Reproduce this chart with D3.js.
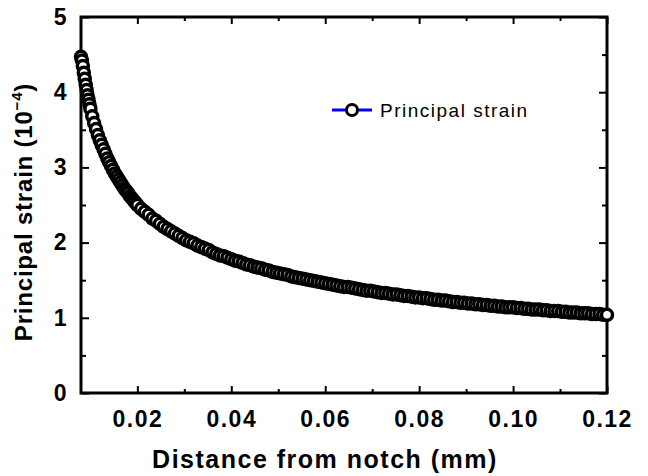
<!DOCTYPE html>
<html>
<head>
<meta charset="utf-8">
<script src="https://cdn.jsdelivr.net/npm/d3@7"></script>
<style>
  body { margin: 0; background: #fff; }
  svg { display: block; }
  .tickLabel text { font-family: "Liberation Sans", Arial, sans-serif; font-weight: bold; font-size: 23px; fill: #000; letter-spacing: 1.5px; }
  .axisTitle { font-family: "Liberation Sans", Arial, sans-serif; font-weight: bold; fill: #000; }
  .legendText { font-family: "Liberation Sans", Arial, sans-serif; font-size: 19px; fill: #000; letter-spacing: 1.5px; }
</style>
</head>
<body>
<div id="chart"></div>
<script>
// distance from notch (mm) and principal strain (x 10^-4)
var distance = [
  0.0080, 0.0082, 0.0084, 0.0086, 0.0088, 0.0090, 0.0092, 0.0094, 0.0096, 0.0098, 0.0100,
  0.0104, 0.0108, 0.0112, 0.0116, 0.0120, 0.0124, 0.0128, 0.0132, 0.0136, 0.0140,
  0.0144, 0.0148, 0.0152, 0.0156, 0.0160, 0.0164, 0.0168, 0.0172, 0.0176, 0.0180,
  0.0184, 0.0188, 0.0192, 0.0196, 0.0200,
  0.0208, 0.0216, 0.0224, 0.0232, 0.0240, 0.0248, 0.0256, 0.0264, 0.0272, 0.0280,
  0.0288, 0.0296, 0.0304, 0.0312, 0.0320, 0.0328, 0.0336, 0.0344, 0.0352, 0.0360,
  0.0368, 0.0376, 0.0384, 0.0392, 0.0400, 0.0408, 0.0416, 0.0424, 0.0432, 0.0440,
  0.0448, 0.0456, 0.0464, 0.0472, 0.0480, 0.0488, 0.0496, 0.0504, 0.0512, 0.0520,
  0.0528, 0.0536, 0.0544, 0.0552, 0.0560, 0.0568, 0.0576, 0.0584, 0.0592, 0.0600,
  0.0608, 0.0616, 0.0624, 0.0632, 0.0640, 0.0648, 0.0656, 0.0664, 0.0672, 0.0680,
  0.0688, 0.0696, 0.0704, 0.0712, 0.0720, 0.0728, 0.0736, 0.0744, 0.0752, 0.0760,
  0.0768, 0.0776, 0.0784, 0.0792, 0.0800, 0.0808, 0.0816, 0.0824, 0.0832, 0.0840,
  0.0848, 0.0856, 0.0864, 0.0872, 0.0880, 0.0888, 0.0896, 0.0904, 0.0912, 0.0920,
  0.0928, 0.0936, 0.0944, 0.0952, 0.0960, 0.0968, 0.0976, 0.0984, 0.0992, 0.1000,
  0.1008, 0.1016, 0.1024, 0.1032, 0.1040, 0.1048, 0.1056, 0.1064, 0.1072, 0.1080,
  0.1088, 0.1096, 0.1104, 0.1112, 0.1120, 0.1128, 0.1136, 0.1144, 0.1152, 0.1160,
  0.1168, 0.1176, 0.1184, 0.1192, 0.1200
];
var strain = [
  4.47, 4.42, 4.35, 4.26, 4.18, 4.10, 4.03, 3.96, 3.90, 3.84, 3.78,
  3.68, 3.59, 3.51, 3.43, 3.36, 3.30, 3.24, 3.18, 3.12, 3.07,
  3.02, 2.97, 2.92, 2.88, 2.84, 2.80, 2.76, 2.72, 2.69, 2.66,
  2.62, 2.59, 2.56, 2.53, 2.50,
  2.45, 2.41, 2.37, 2.32, 2.29, 2.25, 2.21, 2.18, 2.15, 2.12,
  2.09, 2.06, 2.03, 2.01, 1.99, 1.96, 1.94, 1.92, 1.90, 1.87,
  1.85, 1.83, 1.82, 1.80, 1.78, 1.76, 1.75, 1.73, 1.71, 1.70,
  1.68, 1.67, 1.66, 1.64, 1.63, 1.61, 1.60, 1.59, 1.58, 1.57,
  1.55, 1.54, 1.53, 1.52, 1.51, 1.50, 1.49, 1.48, 1.47, 1.46,
  1.45, 1.44, 1.43, 1.42, 1.41, 1.41, 1.40, 1.39, 1.38, 1.37,
  1.36, 1.36, 1.35, 1.34, 1.33, 1.33, 1.32, 1.31, 1.31, 1.30,
  1.29, 1.29, 1.28, 1.27, 1.27, 1.26, 1.26, 1.25, 1.24, 1.24,
  1.23, 1.23, 1.22, 1.21, 1.21, 1.20, 1.20, 1.19, 1.19, 1.18,
  1.18, 1.17, 1.17, 1.16, 1.16, 1.15, 1.15, 1.14, 1.14, 1.14,
  1.13, 1.13, 1.12, 1.12, 1.11, 1.11, 1.11, 1.10, 1.10, 1.09,
  1.09, 1.09, 1.08, 1.08, 1.07, 1.07, 1.07, 1.06, 1.06, 1.06,
  1.05, 1.05, 1.05, 1.04, 1.04
];
var xMajorTicks = [0.02, 0.04, 0.06, 0.08, 0.10, 0.12];
var xMinorTicks = [0.03, 0.05, 0.07, 0.09, 0.11];
var yMajorTicks = [0, 1, 2, 3, 4, 5];
var yMinorTicks = [0.5, 1.5, 2.5, 3.5, 4.5];
var seriesName = "Principal strain";

var svgWidth = 648;
var svgHeight = 476;
var margin = { top: 17, right: 41, bottom: 83, left: 81 };
var width = svgWidth - margin.left - margin.right;
var height = svgHeight - margin.top - margin.bottom;

var svg = d3.select("#chart")
  .append("svg")
  .attr("width", svgWidth)
  .attr("height", svgHeight);

var chartGroup = svg.append("g")
  .attr("transform", `translate(${margin.left}, ${margin.top})`);

var xScale = d3.scaleLinear().domain([0.008, 0.12]).range([0, width]);
var yScale = d3.scaleLinear().domain([0, 5]).range([height, 0]);

var data = distance.map((d, i) => ({ x: d, y: strain[i] }));

// ticks on all four sides, pointing inward
function tickAxis(axis, ticks, size, transform, labels) {
  var g = chartGroup.append("g")
    .attr("transform", transform)
    .call(axis.tickValues(ticks).tickSize(size).tickPadding(0).tickFormat(labels || ""));
  g.select(".domain").remove();
  g.selectAll(".tick line").attr("stroke", "#000").attr("stroke-width", 2);
  return g;
}

tickAxis(d3.axisBottom(xScale), xMinorTicks, -4, `translate(0, ${height})`);
tickAxis(d3.axisTop(xScale), xMinorTicks, -4, "translate(0, 0)");
tickAxis(d3.axisTop(xScale), xMajorTicks, -7, "translate(0, 0)");
tickAxis(d3.axisLeft(yScale), yMinorTicks, -5, "translate(0, 0)");
tickAxis(d3.axisRight(yScale), yMinorTicks, -5, `translate(${width}, 0)`);
tickAxis(d3.axisRight(yScale), yMajorTicks, -8, `translate(${width}, 0)`);

var xAxis = tickAxis(d3.axisBottom(xScale), xMajorTicks, -7, `translate(0, ${height})`, d3.format(".2f"))
  .attr("class", "tickLabel");
xAxis.selectAll("text").attr("y", 18);

var yAxis = tickAxis(d3.axisLeft(yScale), yMajorTicks, -8, "translate(0, 0)", d3.format("d"))
  .attr("class", "tickLabel");
yAxis.selectAll("text").attr("x", -13);

// frame
chartGroup.append("rect")
  .attr("x", 0).attr("y", 0)
  .attr("width", width).attr("height", height)
  .attr("fill", "none")
  .attr("stroke", "#000")
  .attr("stroke-width", 3);

// series line (hidden under markers) and markers
var line = d3.line().x(d => xScale(d.x)).y(d => yScale(d.y));
chartGroup.append("path")
  .datum(data)
  .attr("d", line)
  .attr("fill", "none")
  .attr("stroke", "#0000ff")
  .attr("stroke-width", 2);

chartGroup.append("g").selectAll("circle")
  .data(data)
  .enter()
  .append("circle")
  .attr("cx", d => xScale(d.x))
  .attr("cy", d => yScale(d.y))
  .attr("r", 5.5)
  .attr("fill", "#fff")
  .attr("stroke", "#000")
  .attr("stroke-width", 3.5);

// legend
var legend = chartGroup.append("g").attr("transform", "translate(251, 93)");
legend.append("line")
  .attr("x1", 0).attr("x2", 40).attr("y1", 0).attr("y2", 0)
  .attr("stroke", "#0000ff").attr("stroke-width", 3);
legend.append("circle")
  .attr("cx", 20).attr("cy", 0).attr("r", 5.5)
  .attr("fill", "#fff").attr("stroke", "#000").attr("stroke-width", 3);
legend.append("text")
  .attr("class", "legendText")
  .attr("x", 48).attr("y", 7)
  .text(seriesName);

// axis titles
svg.append("text")
  .attr("class", "axisTitle")
  .attr("x", 325).attr("y", 468)
  .attr("text-anchor", "middle")
  .style("font-size", "25px")
  .style("letter-spacing", "1.5px")
  .text("Distance from notch (mm)");

var yTitle = svg.append("text")
  .attr("class", "axisTitle")
  .attr("transform", "translate(32, 212) rotate(-90)")
  .attr("text-anchor", "middle")
  .style("font-size", "24px")
  .style("letter-spacing", "0.8px");
yTitle.append("tspan").text("Principal strain (10");
yTitle.append("tspan").attr("dy", -10).style("font-size", "15px").text("\u22124");
yTitle.append("tspan").attr("dy", 10).text(")");
</script>
</body>
</html>
